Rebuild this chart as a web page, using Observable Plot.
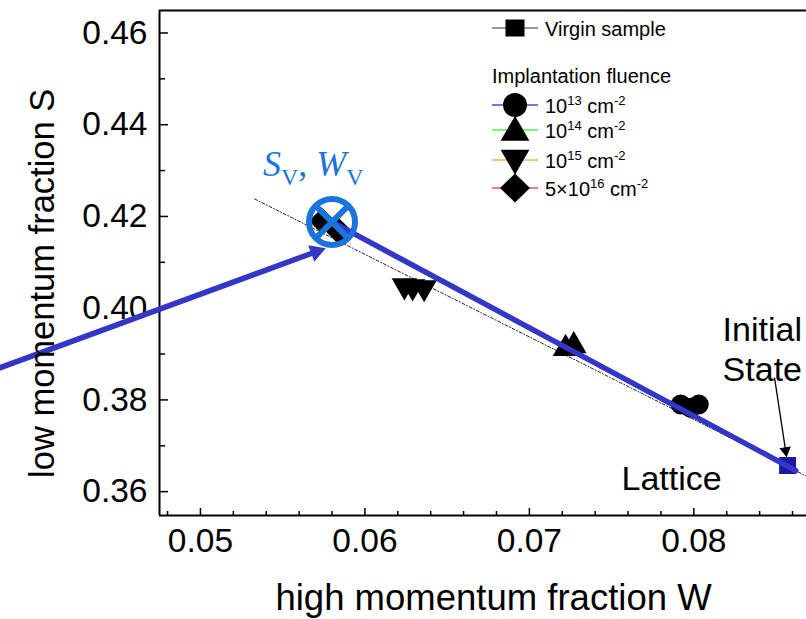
<!DOCTYPE html>
<html><head><meta charset="utf-8">
<script src="https://cdn.jsdelivr.net/npm/d3@7"></script>
<script src="https://cdn.jsdelivr.net/npm/@observablehq/plot@0.6"></script>
<style>
body{margin:0;background:#fff;}
#wrap{position:relative;width:806px;height:619px;overflow:hidden;}
</style></head><body><div id="wrap"></div>
<script>
// ---- data ----
const virginW = [0.0857];
const virginS = [0.3657];
const f13W = [0.0792, 0.0798, 0.0803];
const f13S = [0.3790, 0.3783, 0.3790];
const f14W = [0.0722, 0.0727];
const f14S = [0.3912, 0.3918];
const f15W = [0.0624, 0.0629, 0.0636];
const f15S = [0.4049, 0.4047, 0.4045];
const f16W = [0.0574, 0.0584];
const f16S = [0.4190, 0.4168];
const vacW = [0.0580];
const vacS = [0.4188];
const trendW = [0.0580, 0.0862];
const trendS = [0.4188, 0.3646];
const fitW = [0.0533, 0.0869];
const fitS = [0.4238, 0.3633];
const arrowW = [0.0378, 0.05703];
const arrowS = [0.3870, 0.41231];
const arrowHeadW = [0.05703];
const arrowHeadS = [0.41231];
const initArrowW = [0.08491, 0.08558];
const initArrowS = [0.38473, 0.36895];
const xMajor = [0.05, 0.06, 0.07, 0.08];
const xMinor = [0.048, 0.052, 0.054, 0.056, 0.058, 0.062, 0.064, 0.066, 0.068, 0.072, 0.074, 0.076, 0.078, 0.082, 0.084, 0.086];
const yMajor = [0.36, 0.38, 0.40, 0.42, 0.44, 0.46];
const yMinor = [0.37, 0.39, 0.41, 0.43, 0.45];
const xDomain = [0.04751, 0.08685];
const yDomain = [0.3548, 0.4649];
const xTitle = "high momentum fraction W";
const yTitle = "low momentum fraction S";

const zip = (xs, ys) => xs.map((x, i) => ({x, y: ys[i]}));

const W = 806, H = 619;
const mL = 159, mR = 0, mT = 10, mB = 104;
const fw = W - mL - mR, fh = H - mT - mB;
const blue = "#3535c8";
const lightBlue = "#1b74dc";
const font = "'Liberation Sans', Arial, sans-serif";

const plot = Plot.plot({
  width: W, height: H,
  marginLeft: mL, marginRight: mR, marginTop: mT, marginBottom: mB,
  x: {domain: xDomain},
  y: {domain: yDomain},
  style: {fontFamily: font, fontSize: "33px", color: "black", background: "white", overflow: "visible"},
  marks: [
    Plot.axisX({ticks: xMajor, tickSize: 0, tickPadding: 13, tickFormat: d3.format(".2f"), label: null, fontSize: 33.5}),
    Plot.axisY({ticks: yMajor, tickSize: 0, tickPadding: 12, tickFormat: d3.format(".2f"), label: null, fontSize: 33.5}),
    // inward ticks
    Plot.ruleX(xMajor, {x: d => d, insetTop: fh - 7, strokeWidth: 1.5}),
    Plot.ruleX(xMinor, {x: d => d, insetTop: fh - 4, strokeWidth: 1.5}),
    Plot.ruleY(yMajor, {y: d => d, insetRight: fw - 9, strokeWidth: 1.5}),
    Plot.ruleY(yMinor, {y: d => d, insetRight: fw - 6, strokeWidth: 1.5}),
    // frame lines
    Plot.ruleY([yDomain[0]], {strokeWidth: 2}),
    Plot.ruleY([yDomain[1]], {strokeWidth: 2}),
    Plot.ruleX([xDomain[0]], {strokeWidth: 2}),
    // dotted fit line
    Plot.line(zip(fitW, fitS), {x: "x", y: "y", stroke: "#222", strokeWidth: 1, strokeDasharray: "3,2,1,2"}),
    // data markers
    Plot.dot(zip(f13W, f13S), {x: "x", y: "y", symbol: "circle", r: 10, fill: "black"}),
    Plot.dot(zip(f14W, f14S), {x: "x", y: "y", symbol: "triangle", r: 9.5, fill: "black"}),
    Plot.dot(zip(f15W, f15S), {x: "x", y: "y", symbol: "triangle", rotate: 180, r: 9.5, fill: "black"}),
    Plot.dot(zip(f16W, f16S), {x: "x", y: "y", symbol: "diamond2", r: 12, fill: "black"}),
    Plot.dot(zip(virginW, virginS), {x: "x", y: "y", symbol: "square", r: 9.6, fill: "#1a1aa0"}),
    // trend line
    Plot.line(zip(trendW, trendS), {x: "x", y: "y", stroke: blue, strokeWidth: 5.5}),
    // incoming arrow
    Plot.line(zip(arrowW, arrowS), {x: "x", y: "y", stroke: blue, strokeWidth: 5.5}),
    Plot.dot(zip(arrowHeadW, arrowHeadS), {x: "x", y: "y", symbol: "triangle", rotate: 69.9, r: 6.6, fill: blue}),
    // vacancy marker (circle with cross)
    Plot.dot(zip(vacW, vacS), {x: "x", y: "y", symbol: "circle", r: 23, stroke: lightBlue, strokeWidth: 6, fill: "none"}),
    Plot.dot(zip(vacW, vacS), {x: "x", y: "y", symbol: "times", r: 15, stroke: lightBlue, strokeWidth: 6}),
    // Initial state arrow
    Plot.line(zip(initArrowW, initArrowS), {x: "x", y: "y", stroke: "black", strokeWidth: 1.3}),
    Plot.dot([{x: initArrowW[1], y: initArrowS[1]}], {x: "x", y: "y", symbol: "triangle", rotate: 171.5, r: 4.3, fill: "black"}),
    // annotations
    Plot.text(["Initial\nState"], {x: () => 0.08175, y: () => 0.38408, text: d => d, textAnchor: "start", lineAnchor: "bottom", lineHeight: 1.18, fontSize: 34, fill: "black"}),
    Plot.text(["Lattice"], {x: () => 0.07560, y: () => 0.36033, text: d => d, textAnchor: "start", lineAnchor: "bottom", fontSize: 34, fill: "black"}),
    // axis titles
    Plot.text([xTitle], {x: () => 0.06782, frameAnchor: "bottom", dy: 94, text: d => d, textAnchor: "middle", lineAnchor: "bottom", fontSize: 36.5, fill: "black"}),
    Plot.text([yTitle], {y: () => 0.40542, frameAnchor: "left", dx: -117, rotate: -90, text: d => d, textAnchor: "middle", lineAnchor: "middle", fontSize: 34.5, fill: "black"})
  ]
});

document.getElementById("wrap").appendChild(plot);

// ---- legend and S_V, W_V label (layout in pixels) ----
const svg = d3.select(plot);
const g = svg.append("g").attr("font-family", font).attr("fill", "black").attr("text-anchor", "start");

const legendX = 492, legendX2 = 538, symX = 515, textX = 545;
// virgin sample
g.append("line").attr("x1", legendX).attr("x2", legendX2).attr("y1", 28).attr("y2", 28).attr("stroke", "#333").attr("stroke-width", 1);
g.append("rect").attr("x", symX - 9.5).attr("y", 28 - 8.5).attr("width", 19).attr("height", 17).attr("fill", "black");
g.append("text").attr("x", textX).attr("y", 36).attr("font-size", 20).text("Virgin sample");
g.append("text").attr("x", legendX).attr("y", 83).attr("font-size", 20).text("Implantation fluence");

const rows = [
  {cy: 105, color: "#4444ff", shape: "circle", sup: "13", pre: "10"},
  {cy: 130, color: "#55ee55", shape: "up", sup: "14", pre: "10"},
  {cy: 160, color: "#ffaa66", shape: "down", sup: "15", pre: "10"},
  {cy: 188, color: "#ee5555", shape: "diamond", sup: "16", pre: "5×10"}
];
const baseOff = 7.5;
rows.forEach(r => {
  g.append("line").attr("x1", legendX).attr("x2", legendX2).attr("y1", r.cy).attr("y2", r.cy).attr("stroke", r.color).attr("stroke-width", 1.3);
  let path;
  if (r.shape === "circle") path = d3.symbol(d3.symbolCircle, Math.PI * 12 * 12)();
  else if (r.shape === "up" || r.shape === "down") path = d3.symbol(d3.symbolTriangle, 360)();
  else path = "M0,-14.5L15,0L0,14.5L-15,0Z";
  g.append("path").attr("d", path).attr("fill", "black")
    .attr("transform", `translate(${symX},${r.cy + (r.shape === "up" ? 2.5 : r.shape === "down" ? -2 : 0)})${r.shape === "down" ? " rotate(180)" : ""}`);
  const t = g.append("text").attr("x", textX).attr("y", r.cy + baseOff).attr("font-size", 20);
  t.append("tspan").text(r.pre);
  t.append("tspan").attr("font-size", 13).attr("dy", -8).text(r.sup);
  t.append("tspan").attr("dy", 8).text(" cm");
  t.append("tspan").attr("font-size", 13).attr("dy", -8).text("-2");
});

// S_V, W_V label
const lab = svg.append("text").attr("x", 263).attr("y", 176).attr("text-anchor", "start")
  .attr("font-family", "'Liberation Serif', 'Times New Roman', serif")
  .attr("font-size", 36).attr("fill", lightBlue);
lab.append("tspan").attr("font-style", "italic").text("S");
lab.append("tspan").attr("font-size", 24).attr("dy", 9).text("V");
lab.append("tspan").attr("dy", -9).text(", ");
lab.append("tspan").attr("font-style", "italic").text("W");
lab.append("tspan").attr("font-size", 24).attr("dy", 9).text("V");
</script>
</body></html>
